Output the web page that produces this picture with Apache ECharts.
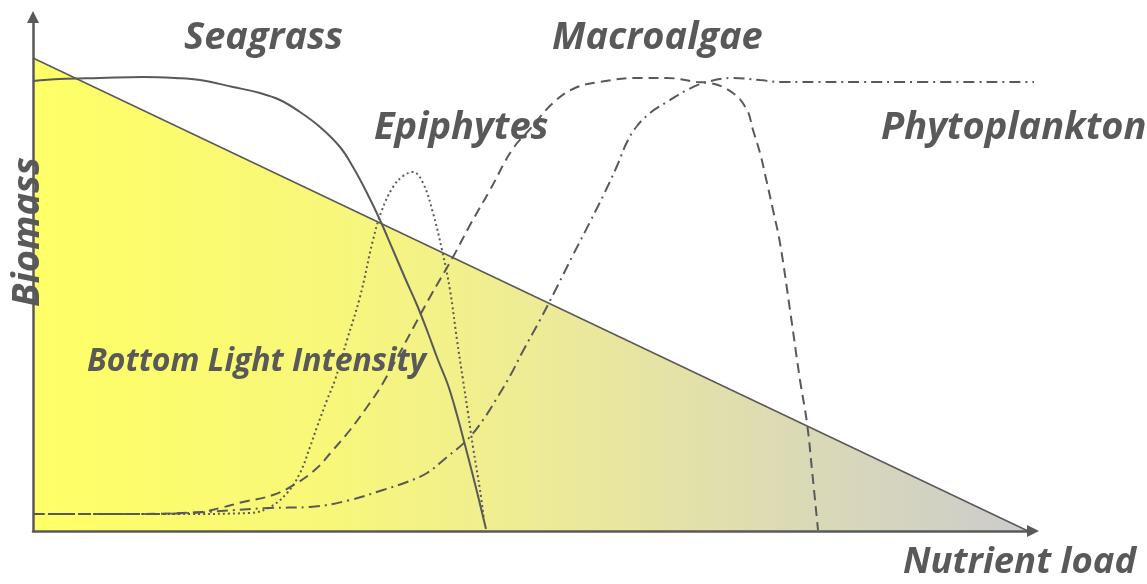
<!DOCTYPE html>
<html>
<head>
<meta charset="utf-8">
<script src="https://cdn.jsdelivr.net/npm/echarts@6/dist/echarts.min.js"></script>
<style>
  html, body { margin: 0; padding: 0; background: #fff; }
  #chart { width: 1147px; height: 584px; }
</style>
</head>
<body>
<div id="chart"></div>
<script>
// values: x = nutrient load, y = biomass (arbitrary units)
const lightIntensity = [[0, 473], [995, 0]];

const seagrass = [
  [0, 450], [27, 452], [67, 453], [110, 454], [142, 453], [167, 451], [200, 444],
  [227, 438], [247, 431], [267, 419], [287, 404], [307, 384], [320, 364], [334, 338],
  [347, 311], [360, 281], [372, 253], [384, 226], [395, 198], [405, 171], [415, 146],
  [424, 116], [432, 86], [439, 59], [446, 31], [453, 2]
];

const epiphytes = [
  [0, 17], [67, 17], [147, 17], [217, 18], [237, 24], [254, 38], [267, 58], [277, 84],
  [284, 104], [294, 131], [302, 151], [314, 191], [327, 234], [340, 291], [349, 321],
  [360, 344], [370, 355], [380, 359], [390, 348], [400, 318], [409, 281], [417, 241],
  [424, 191], [430, 151], [435, 118], [440, 84], [447, 41], [451, 11]
];

const macroalgae = [
  [0, 17], [87, 17], [167, 19], [187, 23], [210, 29], [240, 36], [264, 48], [284, 63],
  [300, 81], [317, 101], [334, 124], [350, 148], [397, 234], [420, 274], [437, 306],
  [457, 341], [479, 381], [497, 402], [520, 428], [542, 443], [567, 449], [602, 453],
  [634, 453], [664, 449], [677, 448], [700, 438], [714, 421], [720, 401], [727, 378],
  [734, 348], [740, 321], [747, 288], [757, 221], [767, 151], [774, 108], [779, 61], [785, 1]
];

const phytoplankton = [
  [0, 17], [117, 17], [237, 23], [277, 24], [317, 31], [350, 41], [374, 49], [394, 58],
  [414, 74], [434, 91], [450, 111], [464, 133], [477, 155], [490, 180], [507, 211],
  [524, 244], [540, 276], [557, 309], [572, 339], [584, 365], [594, 389], [604, 405],
  [617, 418], [634, 429], [654, 441], [674, 449], [700, 453], [727, 451], [747, 449],
  [867, 449], [1012, 449]
];

const labels = [
  { text: 'Seagrass', x: 184, y: 38, size: 38 },
  { text: 'Macroalgae', x: 552, y: 38, size: 38 },
  { text: 'Epiphytes', x: 374, y: 128, size: 38 },
  { text: 'Phytoplankton', x: 881, y: 128, size: 38 },
  { text: 'Bottom Light Intensity', x: 87, y: 362, size: 32 },
  { text: 'Nutrient load', x: 903, y: 563, size: 36.5 }
];

const ink = '#595959';
const font = (s) => 'italic bold ' + s + 'px "Open Sans"';

let myChart = echarts.init(document.getElementById('chart'));

let curve = (name, data, type) => ({
  name: name,
  type: 'line',
  data: data,
  smooth: 0.4,
  symbol: 'none',
  clip: false,
  z: 5,
  lineStyle: { color: ink, width: 2, type: type }
});

let graphics = labels.map(l => ({
  type: 'text',
  x: l.x,
  y: l.y,
  z: 3,
  style: { text: l.text, font: font(l.size), fill: ink, align: 'left', verticalAlign: 'middle' }
}));
graphics.push({
  type: 'text',
  x: 28,
  y: 232,
  z: 3,
  rotation: Math.PI / 2,
  style: { text: 'Biomass', font: font(38), fill: ink, align: 'center', verticalAlign: 'middle' }
});

let option = {
  animation: false,
  grid: { left: 33, top: 17, width: 1000, height: 514 },
  xAxis: {
    type: 'value',
    min: 0,
    max: 1000,
    axisLabel: { show: false },
    axisTick: { show: false },
    splitLine: { show: false },
    axisLine: {
      show: true,
      symbol: ['none', 'triangle'],
      symbolSize: [12, 12],
      lineStyle: { color: ink, width: 2.5 }
    },
    z: 6
  },
  yAxis: {
    type: 'value',
    min: 0,
    max: 514,
    axisLabel: { show: false },
    axisTick: { show: false },
    splitLine: { show: false },
    axisLine: {
      show: true,
      symbol: ['none', 'triangle'],
      symbolSize: [12, 12],
      lineStyle: { color: ink, width: 2.5 }
    },
    z: 6
  },
  graphic: graphics,
  series: [
    {
      name: 'Bottom Light Intensity',
      type: 'line',
      data: lightIntensity,
      symbol: 'none',
      z: 1,
      lineStyle: { color: ink, width: 1.5 },
      areaStyle: {
        opacity: 1,
        color: new echarts.graphic.LinearGradient(0, 0, 1, 0, [
          { offset: 0, color: '#ffff66' },
          { offset: 0.3, color: '#f8f77a' },
          { offset: 0.5, color: '#eeec95' },
          { offset: 0.75, color: '#dcdbb4' },
          { offset: 1, color: '#cccccc' }
        ])
      }
    },
    curve('Seagrass', seagrass, 'solid'),
    curve('Epiphytes', epiphytes, [2, 3]),
    curve('Macroalgae', macroalgae, [10, 6]),
    curve('Phytoplankton', phytoplankton, [11, 5, 2, 5])
  ]
};

myChart.setOption(option, true);
window.addEventListener('resize', () => {
  myChart.resize();
});
</script>
</body>
</html>
